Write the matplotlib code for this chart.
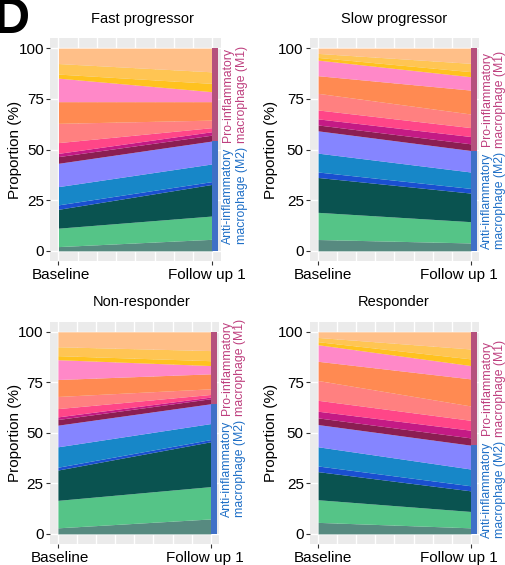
import matplotlib
matplotlib.use("Agg")
import matplotlib.pyplot as plt
import numpy as np

plt.rcParams["font.family"] = ["Liberation Sans", "DejaVu Sans"]

# ─── Data (proportion % of each macrophage subtype, bottom to top) ───────────
TIMEPOINTS = ["Baseline", "Follow up 1"]
GROUPS = ["Fast progressor", "Slow progressor", "Non-responder", "Responder"]
N_M2 = 6  # first six layers are anti-inflammatory (M2), rest pro-inflammatory (M1)

FAST_BASE = [2.1, 9.1, 9.3, 2.2, 9.0, 11.5, 3.3, 1.6, 5.3, 9.5, 10.7, 11.6, 2.0, 5.2, 7.6]
FAST_FU1 = [5.7, 11.5, 15.6, 1.4, 8.7, 11.3, 2.9, 1.7, 2.0, 3.7, 9.1, 4.9, 4.1, 5.7, 11.7]
SLOW_BASE = [5.6, 13.4, 17.2, 2.7, 9.3, 11.0, 2.9, 3.0, 4.4, 8.2, 8.7, 7.7, 1.3, 2.0, 2.6]
SLOW_FU1 = [3.9, 10.5, 14.1, 2.3, 8.1, 10.6, 3.3, 3.6, 4.4, 6.7, 11.8, 6.6, 2.5, 4.1, 7.5]
NR_BASE = [3.0, 13.6, 15.0, 1.4, 10.1, 10.7, 2.8, 1.3, 4.1, 6.0, 8.4, 9.8, 2.0, 4.4, 7.4]
NR_FU1 = [7.4, 16.0, 22.2, 1.1, 7.9, 9.8, 2.5, 0.8, 1.3, 2.8, 7.4, 4.1, 2.4, 5.0, 9.3]
R_BASE = [5.7, 11.2, 13.9, 2.8, 9.5, 11.0, 3.3, 3.3, 5.4, 9.8, 9.5, 8.2, 1.5, 2.1, 2.8]
R_FU1 = [3.0, 8.1, 10.2, 2.5, 8.3, 11.8, 3.6, 3.8, 4.9, 7.1, 13.4, 6.6, 3.3, 4.9, 8.5]

DATA = {
    "Fast progressor": (FAST_BASE, FAST_FU1),
    "Slow progressor": (SLOW_BASE, SLOW_FU1),
    "Non-responder": (NR_BASE, NR_FU1),
    "Responder": (R_BASE, R_FU1),
}

# ─── Styles ──────────────────────────────────────────────────────────────────
LAYER_COLORS = [
    "#578A80", "#55C487", "#0A5350", "#1A4FD0", "#1787C8", "#8585FF",
    "#8B1E52", "#C41A85", "#FF4688", "#FF8080", "#FF8A52", "#FF88C8",
    "#FFC21F", "#FFC553", "#FFBF88",
]
M1_BAR, M2_BAR = "#B5517D", "#3F70C7"
M1_TXT, M2_TXT = "#BE3F7E", "#1F6FC6"
PANEL_BG = "#EBEBEB"

W, H = 506, 565
XLIM = (0.945, 2.057)
# panel boxes in pixels: (left, top, right, bottom)
BOXES = {
    "Fast progressor": (50, 38, 221, 261),
    "Slow progressor": (309.7, 38, 479.5, 261),
    "Non-responder": (49.5, 321.7, 219.5, 544),
    "Responder": (309.7, 321.7, 479.5, 544),
}
TITLE_X = {"Fast progressor": 142, "Slow progressor": 394.5,
           "Non-responder": 142, "Responder": 394}
LEFT_COL = ("Fast progressor", "Non-responder")


def draw_panel(fig, name):
    l, t, r, b = BOXES[name]
    ax = fig.add_axes([l / W, 1 - b / H, (r - l) / W, (b - t) / H])
    ax.set_facecolor(PANEL_BG)
    for s in ax.spines.values():
        s.set_visible(False)
    ax.set_xlim(*XLIM)
    ax.set_ylim(-5, 105)
    px_per_unit = (r - l) / (XLIM[1] - XLIM[0])

    # grid
    for gx in np.linspace(1, 2, 9):
        ax.axvline(gx, color="white", lw=1.0, zorder=0)
    for gy in [0, 25, 50, 75, 100]:
        ax.axhline(gy, color="white", lw=1.0, zorder=0)

    base, fu1 = DATA[name]
    vals = np.array([base, fu1], dtype=float).T  # layers x timepoints
    x = np.array([1.0, 2.0])
    cum = np.zeros(2)
    for v, c in zip(vals, LAYER_COLORS):
        ax.fill_between(x, cum, cum + v, color=c, lw=0, zorder=2)
        cum = cum + v

    m2 = vals[:N_M2, 1].sum()
    total = vals[:, 1].sum()
    ax.bar(2.0, m2, width=0.038, bottom=0, align="edge", color=M2_BAR, lw=0, zorder=3)
    ax.bar(2.0, total - m2, width=0.038, bottom=m2, align="edge", color=M1_BAR, lw=0, zorder=3)

    tx = XLIM[1] + 14 / px_per_unit
    ax.text(tx, (m2 + total) / 2, "Pro-inflammatory\nmacrophage (M1)", rotation=90,
            ha="center", va="center", fontsize=8.8, color=M1_TXT, linespacing=1.2,
            clip_on=False)
    ax.text(tx, m2 / 2, "Anti-inflammatory\nmacrophage (M2)", rotation=90,
            ha="center", va="center", fontsize=8.8, color=M2_TXT, linespacing=1.2,
            clip_on=False)

    # x labels sit slightly inside the tick positions, as in the source figure
    if name in LEFT_COL:
        label_pos = [1.016, 1.963]
    else:
        label_pos = [1.034, 1.925]
    ax.set_xticks(label_pos)
    ax.set_xticklabels(TIMEPOINTS)
    ax.set_xticks([1, 2], minor=True)
    ax.tick_params(axis="x", which="major", length=0, labelsize=11,
                   labelcolor="black", pad=5)
    ax.tick_params(axis="x", which="minor", length=2.75, width=0.8, color="#333333")
    ax.set_yticks([0, 25, 50, 75, 100])
    ax.tick_params(axis="y", length=2.75, width=0.8, color="#333333",
                   labelsize=11, labelcolor="black", pad=1.5)
    ax.set_ylabel("Proportion (%)", fontsize=11)
    off = -28 if name in LEFT_COL else -31.7
    ax.yaxis.set_label_coords(off / (r - l), 0.5)

    fig.text(TITLE_X[name] / W, 1 - (t - 19.5) / H, name, ha="center", va="center",
             fontsize=10.5)
    return ax


def main():
    fig = plt.figure(figsize=(W / 100, H / 100), dpi=100)
    for name in GROUPS:
        draw_panel(fig, name)
    fig.text(-6 / W, 1 - 33 / H, "D", fontsize=36, fontweight="bold", va="baseline")
    fig.savefig("out.png", dpi=100)


if __name__ == "__main__":
    main()
